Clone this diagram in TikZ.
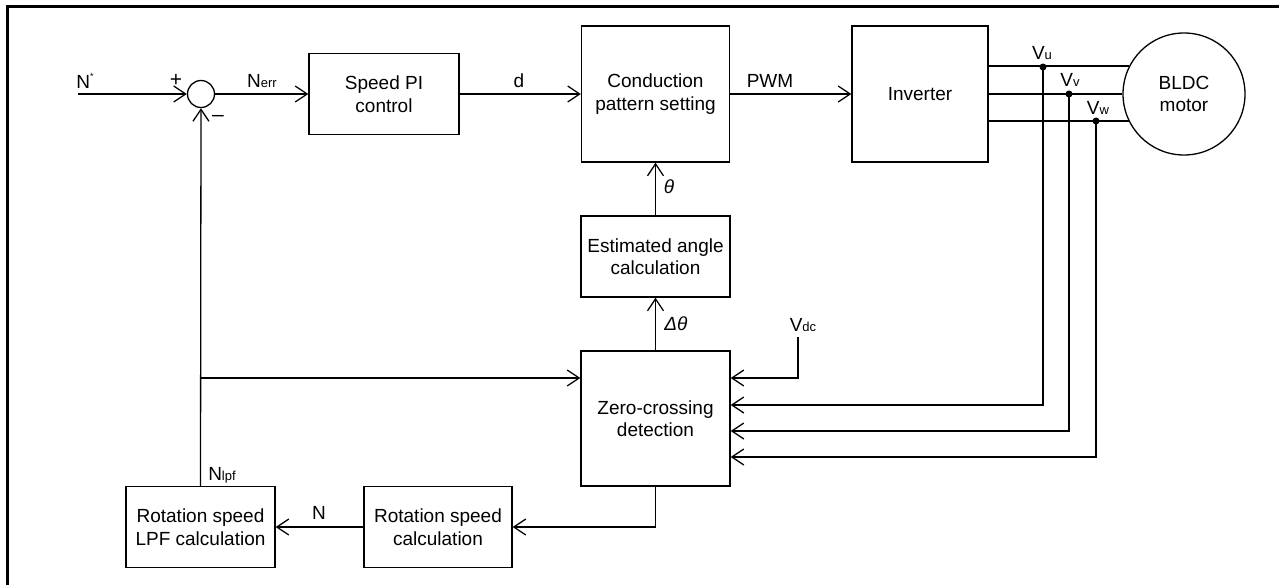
\documentclass[tikz,border=0pt]{standalone}
\usepackage{fontspec}
\setmainfont{Liberation Sans}
\usetikzlibrary{arrows.meta,calc}
\begin{document}
\begin{tikzpicture}[x=1pt,y=-1pt,
  line width=1.3pt,
  font=\fontsize{19}{22.5}\selectfont,
  blk/.style={draw, rectangle, align=center, inner sep=0pt, line width=1.3pt},
  arr/.style={-{Straight Barb[length=12pt,width=16pt,line width=1.3pt]}},
  lbl/.style={inner sep=0pt},
  dotn/.style={circle, fill, inner sep=0pt, minimum size=7pt}
]
\useasboundingbox (0,0) rectangle (1279,585);
% frame
\draw[line width=3pt] (7,585) -- (7,7) -- (1279,7);

% nodes
\node[draw, circle, minimum size=27pt, inner sep=0pt] (sum) at (201,94) {};
\node[blk, minimum width=150pt, minimum height=81pt] (pi) at (384,94) {Speed PI\\control};
\node[blk, minimum width=148pt, minimum height=136pt] (cps) at (655.5,94) {Conduction\\pattern setting};
\node[blk, minimum width=136pt, minimum height=136pt] (inv) at (920,94) {Inverter};
\node[draw, circle, minimum size=122pt, inner sep=0pt, align=center] (motor) at (1184,94) {BLDC\\motor};
\node[blk, minimum width=149pt, minimum height=81pt] (est) at (655.5,256.5) {Estimated angle\\calculation};
\node[blk, minimum width=149pt, minimum height=135pt] (zc) at (655.5,418.5) {Zero-crossing\\detection};
\node[blk, minimum width=148pt, minimum height=81pt] (rsc) at (438,527) {Rotation speed\\calculation};
\node[blk, minimum width=149pt, minimum height=81pt] (lpf) at (200.5,527) {Rotation speed\\LPF calculation};

% coordinates
\coordinate (nin) at (78,94);
\coordinate (br) at (lpf.north |- 0,378);
\coordinate (du) at (1043,67);
\coordinate (dv) at (1069,94);
\coordinate (dw) at (1096,121);
\coordinate (vdc) at (798,337);
\coordinate (zcb) at (zc.south |- 0,527);

% forward path
\draw[arr] (nin) -- (sum.west);
\draw[arr] (sum.east) -- (pi.west);
\draw[arr] (pi.east) -- (cps.west);
\draw[arr] (cps.east) -- (inv.west);

% phase lines
\draw (inv.east |- motor.153.7) -- (motor.153.7);
\draw (inv.east) -- (motor.west);
\draw (inv.east |- motor.206.3) -- (motor.206.3);
\node[dotn] (pu) at (du) {};
\node[dotn] (pv) at (dv) {};
\node[dotn] (pw) at (dw) {};
\draw[arr] (pu.center) -- (pu.center |- 0,405) -- (zc.east |- 0,405);
\draw[arr] (pv.center) -- (pv.center |- 0,431) -- (zc.east |- 0,431);
\draw[arr] (pw.center) -- (pw.center |- 0,457) -- (zc.east |- 0,457);
\draw[arr] (vdc) -- (vdc |- 0,378) -- (zc.east |- 0,378);

% vertical chain
\draw[arr] (est.north) -- (cps.south);
\draw[arr] (zc.north) -- (est.south);

% feedback
\draw[arr] (zc.south) -- (zcb) -- (rsc.east);
\draw[arr] (rsc.west) -- (lpf.east);
\draw[arr] (lpf.north) -- (sum.south);
\draw[arr] (br) -- (zc.west |- br);

% labels
\node[lbl] (lnstar) at (85,81) {N\raisebox{0.9ex}{\fontsize{9}{9}\selectfont *}};
\node[lbl] (lplus) at (176,80) {\fontsize{21}{21}\selectfont +};
\node[lbl] (lminus) at (218,118) {\fontsize{21}{21}\selectfont \textendash};
\node[lbl, anchor=base] (lnerr) at (262,88) {N{\fontsize{13}{13}\selectfont err}};
\node[lbl] (ld) at (519,81) {d};
\node[lbl] (lpwm) at (770,81) {PWM};
\node[lbl, anchor=base] (lvu) at (1042,60) {V{\fontsize{13}{13}\selectfont u}};
\node[lbl, anchor=base] (lvv) at (1070,87) {V{\fontsize{13}{13}\selectfont v}};
\node[lbl, anchor=base] (lvw) at (1098,115) {V{\fontsize{13}{13}\selectfont w}};
\node[lbl] (ltheta) at (669,187) {\itshape θ};
\node[lbl] (ldtheta) at (676,324) {\itshape Δθ};
\node[lbl, anchor=base] (lvdc) at (803,331) {V{\fontsize{13}{13}\selectfont dc}};
\node[lbl, anchor=base] (lnlpf) at (222,480) {N{\fontsize{13}{13}\selectfont lpf}};
\node[lbl] (ln) at (319,513) {N};
\end{tikzpicture}
\end{document}
